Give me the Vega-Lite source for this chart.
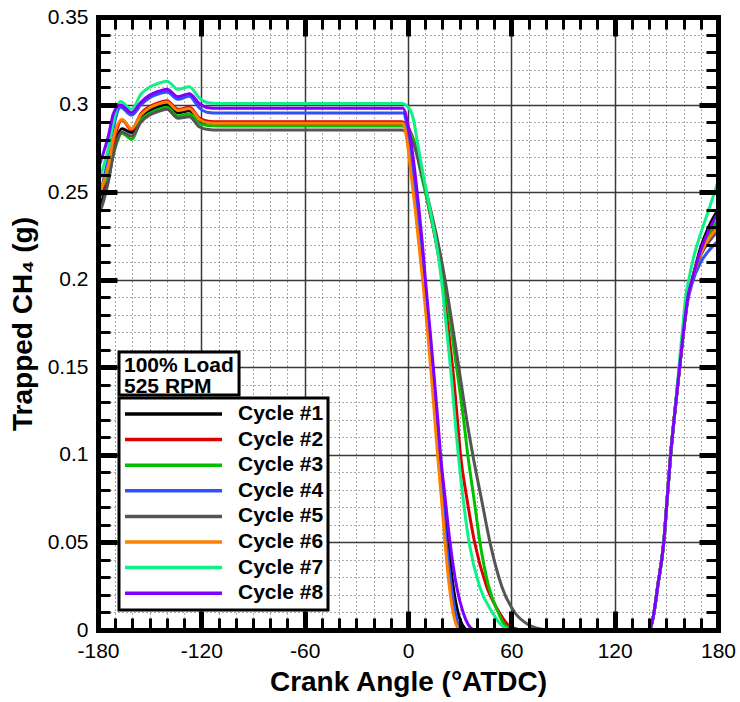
{
"$schema": "https://vega.github.io/schema/vega-lite/v6.json",
"width": 620, "height": 613,
"autosize": "none",
"padding": {"left": 98, "top": 17, "right": 22, "bottom": 72},
"background": "white",
"config": {"font": "Liberation Sans", "view": {"stroke": null}, "legend": {"strokeWidth": 3}, "axis": {"labelFont": "Liberation Sans", "titleFont": "Liberation Sans"}},
"data": {"values": [
{"cycle":1,"seg":"a","angle":-180,"mass":0.240},{"cycle":1,"seg":"a","angle":-177,"mass":0.247},{"cycle":1,"seg":"a","angle":-174,"mass":0.257},{"cycle":1,"seg":"a","angle":-171,"mass":0.273},{"cycle":1,"seg":"a","angle":-166,"mass":0.2862},{"cycle":1,"seg":"a","angle":-160.5,"mass":0.2840},{"cycle":1,"seg":"a","angle":-155,"mass":0.2927},{"cycle":1,"seg":"a","angle":-150,"mass":0.2967},{"cycle":1,"seg":"a","angle":-145,"mass":0.2988},{"cycle":1,"seg":"a","angle":-140,"mass":0.3000},{"cycle":1,"seg":"a","angle":-133.5,"mass":0.2953},{"cycle":1,"seg":"a","angle":-127,"mass":0.2965},{"cycle":1,"seg":"a","angle":-121,"mass":0.2905},{"cycle":1,"seg":"a","angle":-116,"mass":0.2891},{"cycle":1,"seg":"a","angle":-110,"mass":0.2889},{"cycle":1,"seg":"a","angle":-2.5,"mass":0.2889},{"cycle":1,"seg":"a","angle":0,"mass":0.280},{"cycle":1,"seg":"a","angle":2.5,"mass":0.26},{"cycle":1,"seg":"a","angle":4.8,"mass":0.24},{"cycle":1,"seg":"a","angle":7,"mass":0.22},{"cycle":1,"seg":"a","angle":9.1,"mass":0.20},{"cycle":1,"seg":"a","angle":12,"mass":0.17},{"cycle":1,"seg":"a","angle":14.8,"mass":0.14},{"cycle":1,"seg":"a","angle":16.5,"mass":0.12},{"cycle":1,"seg":"a","angle":18.1,"mass":0.10},{"cycle":1,"seg":"a","angle":20.6,"mass":0.075},{"cycle":1,"seg":"a","angle":23.3,"mass":0.05},{"cycle":1,"seg":"a","angle":26.2,"mass":0.025},{"cycle":1,"seg":"a","angle":29,"mass":0.01},{"cycle":1,"seg":"a","angle":31.5,"mass":0.003},{"cycle":1,"seg":"a","angle":34,"mass":0},
{"cycle":1,"seg":"b","angle":140.5,"mass":0},{"cycle":1,"seg":"b","angle":142.5,"mass":0.008},{"cycle":1,"seg":"b","angle":145,"mass":0.025},{"cycle":1,"seg":"b","angle":148.5,"mass":0.05},{"cycle":1,"seg":"b","angle":150.5,"mass":0.075},{"cycle":1,"seg":"b","angle":152.5,"mass":0.1},{"cycle":1,"seg":"b","angle":155,"mass":0.125},{"cycle":1,"seg":"b","angle":157.7,"mass":0.15},{"cycle":1,"seg":"b","angle":160.5,"mass":0.175},{"cycle":1,"seg":"b","angle":162.5,"mass":0.19},{"cycle":1,"seg":"b","angle":165,"mass":0.2},{"cycle":1,"seg":"b","angle":170,"mass":0.2185},{"cycle":1,"seg":"b","angle":175,"mass":0.231},{"cycle":1,"seg":"b","angle":180,"mass":0.240},
{"cycle":2,"seg":"a","angle":-180,"mass":0.245},{"cycle":2,"seg":"a","angle":-177,"mass":0.252},{"cycle":2,"seg":"a","angle":-174,"mass":0.262},{"cycle":2,"seg":"a","angle":-171,"mass":0.278},{"cycle":2,"seg":"a","angle":-166,"mass":0.2912},{"cycle":2,"seg":"a","angle":-160.5,"mass":0.2855},{"cycle":2,"seg":"a","angle":-155,"mass":0.2949},{"cycle":2,"seg":"a","angle":-150,"mass":0.2989},{"cycle":2,"seg":"a","angle":-145,"mass":0.3010},{"cycle":2,"seg":"a","angle":-140,"mass":0.3022},{"cycle":2,"seg":"a","angle":-133.5,"mass":0.2973},{"cycle":2,"seg":"a","angle":-127,"mass":0.2984},{"cycle":2,"seg":"a","angle":-121,"mass":0.2922},{"cycle":2,"seg":"a","angle":-116,"mass":0.2905},{"cycle":2,"seg":"a","angle":-110,"mass":0.2902},{"cycle":2,"seg":"a","angle":-3.5,"mass":0.2902},{"cycle":2,"seg":"a","angle":2.2,"mass":0.2826},{"cycle":2,"seg":"a","angle":6,"mass":0.27},{"cycle":2,"seg":"a","angle":8.2,"mass":0.26},{"cycle":2,"seg":"a","angle":12.3,"mass":0.24},{"cycle":2,"seg":"a","angle":16.6,"mass":0.22},{"cycle":2,"seg":"a","angle":19.8,"mass":0.20},{"cycle":2,"seg":"a","angle":23.6,"mass":0.17},{"cycle":2,"seg":"a","angle":26.9,"mass":0.14},{"cycle":2,"seg":"a","angle":28.7,"mass":0.12},{"cycle":2,"seg":"a","angle":30.5,"mass":0.10},{"cycle":2,"seg":"a","angle":34.2,"mass":0.075},{"cycle":2,"seg":"a","angle":38.7,"mass":0.05},{"cycle":2,"seg":"a","angle":45.6,"mass":0.025},{"cycle":2,"seg":"a","angle":53,"mass":0.01},{"cycle":2,"seg":"a","angle":58,"mass":0.003},{"cycle":2,"seg":"a","angle":65,"mass":0},
{"cycle":2,"seg":"b","angle":140.5,"mass":0},{"cycle":2,"seg":"b","angle":142.5,"mass":0.008},{"cycle":2,"seg":"b","angle":145,"mass":0.025},{"cycle":2,"seg":"b","angle":148.5,"mass":0.05},{"cycle":2,"seg":"b","angle":150.5,"mass":0.075},{"cycle":2,"seg":"b","angle":152.5,"mass":0.1},{"cycle":2,"seg":"b","angle":155,"mass":0.125},{"cycle":2,"seg":"b","angle":157.7,"mass":0.15},{"cycle":2,"seg":"b","angle":160.5,"mass":0.175},{"cycle":2,"seg":"b","angle":162.5,"mass":0.19},{"cycle":2,"seg":"b","angle":165,"mass":0.2},{"cycle":2,"seg":"b","angle":170,"mass":0.216},{"cycle":2,"seg":"b","angle":175,"mass":0.226},{"cycle":2,"seg":"b","angle":180,"mass":0.232},
{"cycle":3,"seg":"a","angle":-180,"mass":0.249},{"cycle":3,"seg":"a","angle":-177,"mass":0.254},{"cycle":3,"seg":"a","angle":-174,"mass":0.260},{"cycle":3,"seg":"a","angle":-171,"mass":0.272},{"cycle":3,"seg":"a","angle":-166,"mass":0.2836},{"cycle":3,"seg":"a","angle":-160.5,"mass":0.2802},{"cycle":3,"seg":"a","angle":-155,"mass":0.2911},{"cycle":3,"seg":"a","angle":-150,"mass":0.2951},{"cycle":3,"seg":"a","angle":-145,"mass":0.2972},{"cycle":3,"seg":"a","angle":-140,"mass":0.2984},{"cycle":3,"seg":"a","angle":-133.5,"mass":0.2935},{"cycle":3,"seg":"a","angle":-127,"mass":0.2946},{"cycle":3,"seg":"a","angle":-121,"mass":0.2892},{"cycle":3,"seg":"a","angle":-116,"mass":0.2880},{"cycle":3,"seg":"a","angle":-110,"mass":0.2878},{"cycle":3,"seg":"a","angle":-3.5,"mass":0.2878},{"cycle":3,"seg":"a","angle":3,"mass":0.28},{"cycle":3,"seg":"a","angle":7.7,"mass":0.26},{"cycle":3,"seg":"a","angle":12.5,"mass":0.24},{"cycle":3,"seg":"a","angle":16.6,"mass":0.22},{"cycle":3,"seg":"a","angle":20.8,"mass":0.20},{"cycle":3,"seg":"a","angle":25.4,"mass":0.17},{"cycle":3,"seg":"a","angle":29.6,"mass":0.14},{"cycle":3,"seg":"a","angle":32.3,"mass":0.12},{"cycle":3,"seg":"a","angle":34.7,"mass":0.10},{"cycle":3,"seg":"a","angle":38.3,"mass":0.075},{"cycle":3,"seg":"a","angle":41.8,"mass":0.05},{"cycle":3,"seg":"a","angle":46.8,"mass":0.025},{"cycle":3,"seg":"a","angle":52.4,"mass":0.01},{"cycle":3,"seg":"a","angle":56,"mass":0.003},{"cycle":3,"seg":"a","angle":61,"mass":0},
{"cycle":3,"seg":"b","angle":140.5,"mass":0},{"cycle":3,"seg":"b","angle":142.5,"mass":0.008},{"cycle":3,"seg":"b","angle":145,"mass":0.025},{"cycle":3,"seg":"b","angle":148.5,"mass":0.05},{"cycle":3,"seg":"b","angle":150.5,"mass":0.075},{"cycle":3,"seg":"b","angle":152.5,"mass":0.1},{"cycle":3,"seg":"b","angle":155,"mass":0.125},{"cycle":3,"seg":"b","angle":157.7,"mass":0.15},{"cycle":3,"seg":"b","angle":160.5,"mass":0.175},{"cycle":3,"seg":"b","angle":162.5,"mass":0.19},{"cycle":3,"seg":"b","angle":165,"mass":0.2},{"cycle":3,"seg":"b","angle":170,"mass":0.216},{"cycle":3,"seg":"b","angle":175,"mass":0.227},{"cycle":3,"seg":"b","angle":180,"mass":0.234},
{"cycle":4,"seg":"a","angle":-180,"mass":0.245},{"cycle":4,"seg":"a","angle":-177,"mass":0.256},{"cycle":4,"seg":"a","angle":-174,"mass":0.270},{"cycle":4,"seg":"a","angle":-171,"mass":0.287},{"cycle":4,"seg":"a","angle":-167,"mass":0.2985},{"cycle":4,"seg":"a","angle":-160.5,"mass":0.2940},{"cycle":4,"seg":"a","angle":-155,"mass":0.2999},{"cycle":4,"seg":"a","angle":-150,"mass":0.3039},{"cycle":4,"seg":"a","angle":-145,"mass":0.3060},{"cycle":4,"seg":"a","angle":-140,"mass":0.3072},{"cycle":4,"seg":"a","angle":-133.5,"mass":0.3030},{"cycle":4,"seg":"a","angle":-127,"mass":0.3047},{"cycle":4,"seg":"a","angle":-121,"mass":0.2980},{"cycle":4,"seg":"a","angle":-116,"mass":0.2955},{"cycle":4,"seg":"a","angle":-110,"mass":0.2952},{"cycle":4,"seg":"a","angle":-2.5,"mass":0.2952},{"cycle":4,"seg":"a","angle":0.3,"mass":0.28},{"cycle":4,"seg":"a","angle":2.8,"mass":0.26},{"cycle":4,"seg":"a","angle":5,"mass":0.24},{"cycle":4,"seg":"a","angle":7.1,"mass":0.22},{"cycle":4,"seg":"a","angle":9.3,"mass":0.20},{"cycle":4,"seg":"a","angle":12.2,"mass":0.17},{"cycle":4,"seg":"a","angle":14.8,"mass":0.14},{"cycle":4,"seg":"a","angle":16.3,"mass":0.12},{"cycle":4,"seg":"a","angle":17.8,"mass":0.10},{"cycle":4,"seg":"a","angle":20,"mass":0.075},{"cycle":4,"seg":"a","angle":22.3,"mass":0.05},{"cycle":4,"seg":"a","angle":25.2,"mass":0.025},{"cycle":4,"seg":"a","angle":27.5,"mass":0.01},{"cycle":4,"seg":"a","angle":29.3,"mass":0.003},{"cycle":4,"seg":"a","angle":31,"mass":0},
{"cycle":4,"seg":"b","angle":140.5,"mass":0},{"cycle":4,"seg":"b","angle":142.5,"mass":0.008},{"cycle":4,"seg":"b","angle":145,"mass":0.025},{"cycle":4,"seg":"b","angle":148.5,"mass":0.05},{"cycle":4,"seg":"b","angle":150.5,"mass":0.075},{"cycle":4,"seg":"b","angle":152.5,"mass":0.1},{"cycle":4,"seg":"b","angle":155,"mass":0.125},{"cycle":4,"seg":"b","angle":157.7,"mass":0.15},{"cycle":4,"seg":"b","angle":160.5,"mass":0.175},{"cycle":4,"seg":"b","angle":162.5,"mass":0.188},{"cycle":4,"seg":"b","angle":165,"mass":0.198},{"cycle":4,"seg":"b","angle":170,"mass":0.210},{"cycle":4,"seg":"b","angle":175,"mass":0.217},{"cycle":4,"seg":"b","angle":180,"mass":0.222},
{"cycle":5,"seg":"a","angle":-180,"mass":0.236},{"cycle":5,"seg":"a","angle":-177,"mass":0.244},{"cycle":5,"seg":"a","angle":-174,"mass":0.256},{"cycle":5,"seg":"a","angle":-171,"mass":0.272},{"cycle":5,"seg":"a","angle":-166,"mass":0.2842},{"cycle":5,"seg":"a","angle":-160.5,"mass":0.2820},{"cycle":5,"seg":"a","angle":-155,"mass":0.2900},{"cycle":5,"seg":"a","angle":-150,"mass":0.2940},{"cycle":5,"seg":"a","angle":-145,"mass":0.2961},{"cycle":5,"seg":"a","angle":-140,"mass":0.2973},{"cycle":5,"seg":"a","angle":-133.5,"mass":0.2922},{"cycle":5,"seg":"a","angle":-127,"mass":0.2931},{"cycle":5,"seg":"a","angle":-121,"mass":0.2872},{"cycle":5,"seg":"a","angle":-116,"mass":0.2858},{"cycle":5,"seg":"a","angle":-110,"mass":0.2855},{"cycle":5,"seg":"a","angle":-3.5,"mass":0.2855},{"cycle":5,"seg":"a","angle":3.1,"mass":0.278},{"cycle":5,"seg":"a","angle":7,"mass":0.2645},{"cycle":5,"seg":"a","angle":11.8,"mass":0.2455},{"cycle":5,"seg":"a","angle":16.7,"mass":0.2246},{"cycle":5,"seg":"a","angle":21.5,"mass":0.20},{"cycle":5,"seg":"a","angle":26.4,"mass":0.17},{"cycle":5,"seg":"a","angle":31,"mass":0.14},{"cycle":5,"seg":"a","angle":34.1,"mass":0.12},{"cycle":5,"seg":"a","angle":37.6,"mass":0.10},{"cycle":5,"seg":"a","angle":42.6,"mass":0.075},{"cycle":5,"seg":"a","angle":47.6,"mass":0.05},{"cycle":5,"seg":"a","angle":54.4,"mass":0.025},{"cycle":5,"seg":"a","angle":62,"mass":0.01},{"cycle":5,"seg":"a","angle":70,"mass":0.003},{"cycle":5,"seg":"a","angle":80,"mass":0},
{"cycle":5,"seg":"b","angle":140.5,"mass":0},{"cycle":5,"seg":"b","angle":142.5,"mass":0.008},{"cycle":5,"seg":"b","angle":145,"mass":0.025},{"cycle":5,"seg":"b","angle":148.5,"mass":0.05},{"cycle":5,"seg":"b","angle":150.5,"mass":0.075},{"cycle":5,"seg":"b","angle":152.5,"mass":0.1},{"cycle":5,"seg":"b","angle":155,"mass":0.125},{"cycle":5,"seg":"b","angle":157.7,"mass":0.15},{"cycle":5,"seg":"b","angle":160.5,"mass":0.175},{"cycle":5,"seg":"b","angle":162.5,"mass":0.19},{"cycle":5,"seg":"b","angle":165,"mass":0.2},{"cycle":5,"seg":"b","angle":170,"mass":0.214},{"cycle":5,"seg":"b","angle":175,"mass":0.222},{"cycle":5,"seg":"b","angle":180,"mass":0.228},
{"cycle":6,"seg":"a","angle":-180,"mass":0.248},{"cycle":6,"seg":"a","angle":-177,"mass":0.255},{"cycle":6,"seg":"a","angle":-174,"mass":0.265},{"cycle":6,"seg":"a","angle":-171,"mass":0.281},{"cycle":6,"seg":"a","angle":-166,"mass":0.2915},{"cycle":6,"seg":"a","angle":-160.5,"mass":0.2862},{"cycle":6,"seg":"a","angle":-155,"mass":0.2942},{"cycle":6,"seg":"a","angle":-150,"mass":0.2982},{"cycle":6,"seg":"a","angle":-145,"mass":0.3003},{"cycle":6,"seg":"a","angle":-140,"mass":0.3015},{"cycle":6,"seg":"a","angle":-133.5,"mass":0.2966},{"cycle":6,"seg":"a","angle":-127,"mass":0.2978},{"cycle":6,"seg":"a","angle":-121,"mass":0.2914},{"cycle":6,"seg":"a","angle":-116,"mass":0.2896},{"cycle":6,"seg":"a","angle":-110,"mass":0.2893},{"cycle":6,"seg":"a","angle":-3,"mass":0.2893},{"cycle":6,"seg":"a","angle":-0.7,"mass":0.28},{"cycle":6,"seg":"a","angle":1.8,"mass":0.26},{"cycle":6,"seg":"a","angle":4.2,"mass":0.24},{"cycle":6,"seg":"a","angle":6.3,"mass":0.22},{"cycle":6,"seg":"a","angle":8.5,"mass":0.20},{"cycle":6,"seg":"a","angle":11.4,"mass":0.17},{"cycle":6,"seg":"a","angle":14,"mass":0.14},{"cycle":6,"seg":"a","angle":15.6,"mass":0.12},{"cycle":6,"seg":"a","angle":17.2,"mass":0.10},{"cycle":6,"seg":"a","angle":19.4,"mass":0.075},{"cycle":6,"seg":"a","angle":21.5,"mass":0.05},{"cycle":6,"seg":"a","angle":24,"mass":0.025},{"cycle":6,"seg":"a","angle":26.2,"mass":0.01},{"cycle":6,"seg":"a","angle":28,"mass":0.003},{"cycle":6,"seg":"a","angle":30,"mass":0},
{"cycle":6,"seg":"b","angle":140.5,"mass":0},{"cycle":6,"seg":"b","angle":142.5,"mass":0.008},{"cycle":6,"seg":"b","angle":145,"mass":0.025},{"cycle":6,"seg":"b","angle":148.5,"mass":0.05},{"cycle":6,"seg":"b","angle":150.5,"mass":0.075},{"cycle":6,"seg":"b","angle":152.5,"mass":0.1},{"cycle":6,"seg":"b","angle":155,"mass":0.125},{"cycle":6,"seg":"b","angle":157.7,"mass":0.15},{"cycle":6,"seg":"b","angle":160.5,"mass":0.175},{"cycle":6,"seg":"b","angle":162.5,"mass":0.19},{"cycle":6,"seg":"b","angle":165,"mass":0.2},{"cycle":6,"seg":"b","angle":170,"mass":0.215},{"cycle":6,"seg":"b","angle":175,"mass":0.224},{"cycle":6,"seg":"b","angle":180,"mass":0.230},
{"cycle":7,"seg":"a","angle":-180,"mass":0.255},{"cycle":7,"seg":"a","angle":-177,"mass":0.264},{"cycle":7,"seg":"a","angle":-174,"mass":0.275},{"cycle":7,"seg":"a","angle":-171,"mass":0.290},{"cycle":7,"seg":"a","angle":-167,"mass":0.3017},{"cycle":7,"seg":"a","angle":-160.5,"mass":0.2973},{"cycle":7,"seg":"a","angle":-155,"mass":0.306},{"cycle":7,"seg":"a","angle":-150,"mass":0.310},{"cycle":7,"seg":"a","angle":-145,"mass":0.3121},{"cycle":7,"seg":"a","angle":-140,"mass":0.3133},{"cycle":7,"seg":"a","angle":-133.5,"mass":0.3087},{"cycle":7,"seg":"a","angle":-127,"mass":0.3102},{"cycle":7,"seg":"a","angle":-121,"mass":0.3036},{"cycle":7,"seg":"a","angle":-116,"mass":0.3010},{"cycle":7,"seg":"a","angle":-110,"mass":0.3006},{"cycle":7,"seg":"a","angle":-3.5,"mass":0.3006},{"cycle":7,"seg":"a","angle":1.2,"mass":0.297},{"cycle":7,"seg":"a","angle":3.5,"mass":0.29},{"cycle":7,"seg":"a","angle":5.2,"mass":0.28},{"cycle":7,"seg":"a","angle":8.8,"mass":0.26},{"cycle":7,"seg":"a","angle":12.8,"mass":0.24},{"cycle":7,"seg":"a","angle":16.6,"mass":0.22},{"cycle":7,"seg":"a","angle":19.4,"mass":0.20},{"cycle":7,"seg":"a","angle":22.6,"mass":0.17},{"cycle":7,"seg":"a","angle":25.6,"mass":0.14},{"cycle":7,"seg":"a","angle":27.3,"mass":0.12},{"cycle":7,"seg":"a","angle":29.2,"mass":0.10},{"cycle":7,"seg":"a","angle":32,"mass":0.075},{"cycle":7,"seg":"a","angle":35.5,"mass":0.05},{"cycle":7,"seg":"a","angle":41.5,"mass":0.025},{"cycle":7,"seg":"a","angle":49,"mass":0.01},{"cycle":7,"seg":"a","angle":54,"mass":0.003},{"cycle":7,"seg":"a","angle":59,"mass":0},
{"cycle":7,"seg":"b","angle":140.5,"mass":0},{"cycle":7,"seg":"b","angle":142.5,"mass":0.008},{"cycle":7,"seg":"b","angle":145,"mass":0.025},{"cycle":7,"seg":"b","angle":148.5,"mass":0.05},{"cycle":7,"seg":"b","angle":150.5,"mass":0.075},{"cycle":7,"seg":"b","angle":152.5,"mass":0.1},{"cycle":7,"seg":"b","angle":155,"mass":0.125},{"cycle":7,"seg":"b","angle":157.3,"mass":0.15},{"cycle":7,"seg":"b","angle":159.7,"mass":0.175},{"cycle":7,"seg":"b","angle":161.2,"mass":0.19},{"cycle":7,"seg":"b","angle":163,"mass":0.2},{"cycle":7,"seg":"b","angle":166,"mass":0.2135},{"cycle":7,"seg":"b","angle":170,"mass":0.2265},{"cycle":7,"seg":"b","angle":175,"mass":0.241},{"cycle":7,"seg":"b","angle":180,"mass":0.256},
{"cycle":8,"seg":"a","angle":-180,"mass":0.263},{"cycle":8,"seg":"a","angle":-177,"mass":0.272},{"cycle":8,"seg":"a","angle":-174,"mass":0.282},{"cycle":8,"seg":"a","angle":-171,"mass":0.295},{"cycle":8,"seg":"a","angle":-167,"mass":0.2998},{"cycle":8,"seg":"a","angle":-160.5,"mass":0.2954},{"cycle":8,"seg":"a","angle":-155,"mass":0.3014},{"cycle":8,"seg":"a","angle":-150,"mass":0.3054},{"cycle":8,"seg":"a","angle":-145,"mass":0.3075},{"cycle":8,"seg":"a","angle":-140,"mass":0.3087},{"cycle":8,"seg":"a","angle":-133.5,"mass":0.3045},{"cycle":8,"seg":"a","angle":-127,"mass":0.3062},{"cycle":8,"seg":"a","angle":-121,"mass":0.3005},{"cycle":8,"seg":"a","angle":-116,"mass":0.2982},{"cycle":8,"seg":"a","angle":-110,"mass":0.2979},{"cycle":8,"seg":"a","angle":-3,"mass":0.2979},{"cycle":8,"seg":"a","angle":0.2,"mass":0.2874},{"cycle":8,"seg":"a","angle":1.5,"mass":0.28},{"cycle":8,"seg":"a","angle":4.2,"mass":0.26},{"cycle":8,"seg":"a","angle":6.4,"mass":0.24},{"cycle":8,"seg":"a","angle":8.4,"mass":0.22},{"cycle":8,"seg":"a","angle":10.1,"mass":0.20},{"cycle":8,"seg":"a","angle":12.9,"mass":0.17},{"cycle":8,"seg":"a","angle":15.6,"mass":0.14},{"cycle":8,"seg":"a","angle":17.3,"mass":0.12},{"cycle":8,"seg":"a","angle":18.9,"mass":0.10},{"cycle":8,"seg":"a","angle":21.6,"mass":0.075},{"cycle":8,"seg":"a","angle":24.4,"mass":0.05},{"cycle":8,"seg":"a","angle":28.2,"mass":0.025},{"cycle":8,"seg":"a","angle":32,"mass":0.01},{"cycle":8,"seg":"a","angle":35,"mass":0.003},{"cycle":8,"seg":"a","angle":38,"mass":0},
{"cycle":8,"seg":"b","angle":140.5,"mass":0},{"cycle":8,"seg":"b","angle":142.5,"mass":0.008},{"cycle":8,"seg":"b","angle":145,"mass":0.025},{"cycle":8,"seg":"b","angle":148.5,"mass":0.05},{"cycle":8,"seg":"b","angle":150.5,"mass":0.075},{"cycle":8,"seg":"b","angle":152.5,"mass":0.1},{"cycle":8,"seg":"b","angle":155,"mass":0.125},{"cycle":8,"seg":"b","angle":157.7,"mass":0.15},{"cycle":8,"seg":"b","angle":160.5,"mass":0.175},{"cycle":8,"seg":"b","angle":162.5,"mass":0.19},{"cycle":8,"seg":"b","angle":165,"mass":0.2},{"cycle":8,"seg":"b","angle":170,"mass":0.217},{"cycle":8,"seg":"b","angle":175,"mass":0.229},{"cycle":8,"seg":"b","angle":180,"mass":0.238}
]},
"layer": [
{
 "mark": {"type": "line", "interpolate": "monotone", "strokeWidth": 3, "clip": true},
 "encoding": {
  "x": {"field": "angle", "type": "quantitative", "scale": {"domain": [-180, 180], "nice": false, "zero": false},
   "axis": {"orient": "bottom", "values": [-180,-170,-160,-150,-140,-130,-120,-110,-100,-90,-80,-70,-60,-50,-40,-30,-20,-10,0,10,20,30,40,50,60,70,80,90,100,110,120,130,140,150,160,170,180],
    "title": "Crank Angle (°ATDC)", "titleFontSize": 28, "titleFontWeight": "bold", "titleColor": "black", "titlePadding": 7,
    "labelExpr": "datum.value % 60 === 0 ? '' + datum.value : ''", "labelFontSize": 21, "labelColor": "black", "labelOverlap": false, "labelFlush": false, "labelPadding": 10,
    "domain": false, "ticks": false, "grid": true,
    "gridColor": {"condition": {"test": "datum.value % 60 === 0", "value": "#3a3a3a"}, "value": "#555555"},
    "gridDash": {"condition": {"test": "datum.value % 60 === 0", "value": []}, "value": [1, 3]},
    "gridWidth": {"condition": {"test": "datum.value % 60 === 0", "value": 1.5}, "value": 1},
    "zindex": 0}},
  "y": {"field": "mass", "type": "quantitative", "scale": {"domain": [0, 0.35], "nice": false, "zero": true},
   "axis": {"orient": "left", "values": [0,0.01,0.02,0.03,0.04,0.05,0.06,0.07,0.08,0.09,0.1,0.11,0.12,0.13,0.14,0.15,0.16,0.17,0.18,0.19,0.2,0.21,0.22,0.23,0.24,0.25,0.26,0.27,0.28,0.29,0.3,0.31,0.32,0.33,0.34,0.35],
    "title": "Trapped CH₄ (g)", "titleFontSize": 28, "titleFontWeight": "bold", "titleColor": "black", "titlePadding": 10,
    "labelExpr": "round(datum.value*100) % 5 === 0 ? '' + round(datum.value*100)/100 : ''", "labelFontSize": 21, "labelColor": "black", "labelOverlap": false, "labelFlush": false, "labelPadding": 10,
    "domain": false, "ticks": false, "grid": true,
    "gridColor": {"condition": {"test": "round(datum.value*100) % 5 === 0", "value": "#3a3a3a"}, "value": "#555555"},
    "gridDash": {"condition": {"test": "round(datum.value*100) % 5 === 0", "value": []}, "value": [1, 3]},
    "gridWidth": {"condition": {"test": "round(datum.value*100) % 5 === 0", "value": 1.5}, "value": 1},
    "zindex": 0}},
  "color": {"field": "cycle", "type": "nominal",
   "scale": {"domain": [1,2,3,4,5,6,7,8], "range": ["#000000","#dd0000","#00c000","#3050ff","#555555","#ff8000","#10f088","#8000ff"]},
   "legend": {"orient": "none", "legendX": 21, "legendY": 381, "title": null, "symbolType": "stroke", "symbolSize": 9409, "symbolStrokeWidth": 3.5,
    "clipHeight": 24, "rowPadding": 1.6, "labelFont": "Liberation Sans", "labelFontSize": 21, "labelFontWeight": "bold", "labelColor": "black",
    "labelOffset": 14, "padding": 4, "fillColor": "white", "strokeColor": "black", "labelExpr": "'Cycle #' + datum.label"}},
  "detail": {"field": "seg", "type": "nominal"}
 }
},
{
 "mark": {"type": "line", "strokeOpacity": 0, "strokeWidth": 0},
 "encoding": {
  "x": {"field": "angle", "type": "quantitative",
   "axis": {"orient": "top", "values": [-180,-170,-160,-150,-140,-130,-120,-110,-100,-90,-80,-70,-60,-50,-40,-30,-20,-10,0,10,20,30,40,50,60,70,80,90,100,110,120,130,140,150,160,170,180],
    "labels": false, "title": null, "grid": false, "domain": true, "domainColor": "black", "domainWidth": 5, "domainCap": "square",
    "ticks": true, "tickColor": "black",
    "tickSize": {"condition": {"test": "datum.value % 60 === 0", "value": -19}, "value": -12},
    "tickWidth": {"condition": {"test": "datum.value % 60 === 0", "value": 5}, "value": 3}, "zindex": 1}},
  "y": {"field": "mass", "type": "quantitative",
   "axis": {"orient": "right", "values": [0,0.01,0.02,0.03,0.04,0.05,0.06,0.07,0.08,0.09,0.1,0.11,0.12,0.13,0.14,0.15,0.16,0.17,0.18,0.19,0.2,0.21,0.22,0.23,0.24,0.25,0.26,0.27,0.28,0.29,0.3,0.31,0.32,0.33,0.34,0.35],
    "labels": false, "title": null, "grid": false, "domain": true, "domainColor": "black", "domainWidth": 5, "domainCap": "square",
    "ticks": true, "tickColor": "black",
    "tickSize": {"condition": {"test": "round(datum.value*100) % 5 === 0", "value": -19}, "value": -12},
    "tickWidth": {"condition": {"test": "round(datum.value*100) % 5 === 0", "value": 5}, "value": 3}, "zindex": 1}}
 }
},
{
 "mark": {"type": "line", "strokeOpacity": 0, "strokeWidth": 0},
 "encoding": {
  "x": {"field": "angle", "type": "quantitative",
   "axis": {"orient": "bottom", "values": [-180,-170,-160,-150,-140,-130,-120,-110,-100,-90,-80,-70,-60,-50,-40,-30,-20,-10,0,10,20,30,40,50,60,70,80,90,100,110,120,130,140,150,160,170,180],
    "labels": false, "title": null, "grid": false, "domain": true, "domainColor": "black", "domainWidth": 5, "domainCap": "square",
    "ticks": true, "tickColor": "black",
    "tickSize": {"condition": {"test": "datum.value % 60 === 0", "value": -19}, "value": -12},
    "tickWidth": {"condition": {"test": "datum.value % 60 === 0", "value": 5}, "value": 3}, "zindex": 1}},
  "y": {"field": "mass", "type": "quantitative",
   "axis": {"orient": "left", "values": [0,0.01,0.02,0.03,0.04,0.05,0.06,0.07,0.08,0.09,0.1,0.11,0.12,0.13,0.14,0.15,0.16,0.17,0.18,0.19,0.2,0.21,0.22,0.23,0.24,0.25,0.26,0.27,0.28,0.29,0.3,0.31,0.32,0.33,0.34,0.35],
    "labels": false, "title": null, "grid": false, "domain": true, "domainColor": "black", "domainWidth": 5, "domainCap": "square",
    "ticks": true, "tickColor": "black",
    "tickSize": {"condition": {"test": "round(datum.value*100) % 5 === 0", "value": -19}, "value": -12},
    "tickWidth": {"condition": {"test": "round(datum.value*100) % 5 === 0", "value": 5}, "value": 3}, "zindex": 1}}
 }
},
{
 "data": {"values": [{}]},
 "mark": {"type": "rect", "fill": "white", "stroke": "black", "strokeWidth": 3},
 "encoding": {
  "x": {"datum": -167.8, "type": "quantitative", "axis": null},
  "x2": {"datum": -98.1},
  "y": {"datum": 0.1587, "type": "quantitative", "axis": null},
  "y2": {"datum": 0.1342}
 }
},
{
 "data": {"values": [{}]},
 "mark": {"type": "text", "align": "left", "baseline": "middle", "font": "Liberation Sans", "fontSize": 21, "fontWeight": "bold", "lineHeight": 21, "color": "black"},
 "encoding": {
  "x": {"datum": -164.9, "type": "quantitative", "axis": null},
  "y": {"datum": 0.1508, "type": "quantitative", "axis": null},
  "text": {"value": ["100% Load", "525 RPM"]}
 }
}
],
"resolve": {"axis": {"x": "independent", "y": "independent"}}
}
